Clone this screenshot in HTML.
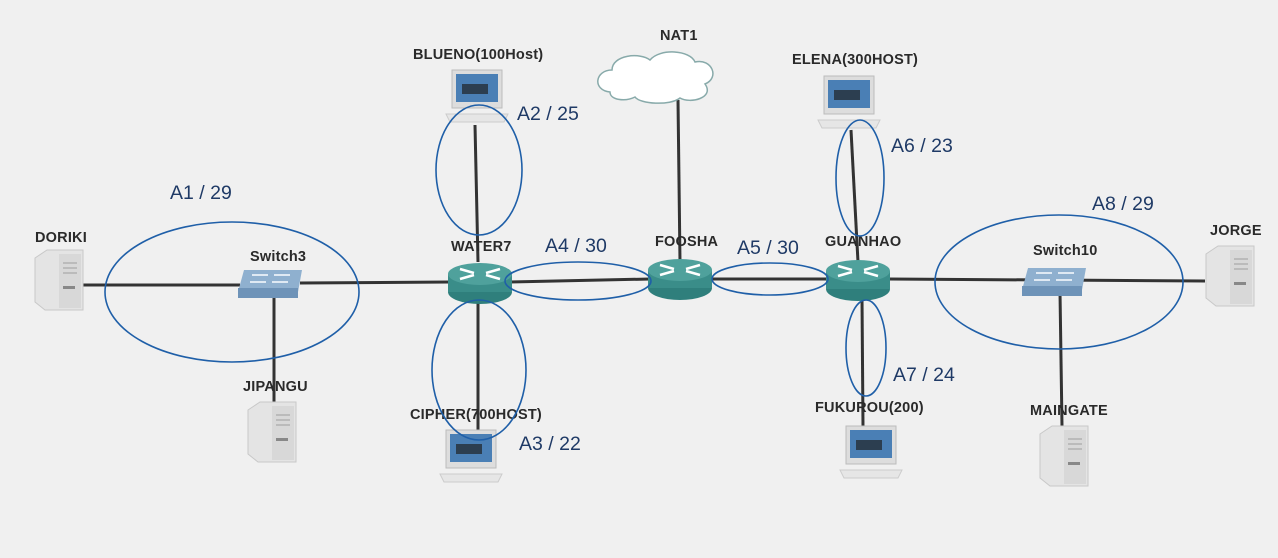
<!DOCTYPE html>
<html><head><meta charset="utf-8"><style>
html,body{margin:0;padding:0;background:#f0f0f0;}
svg{display:block;}
.nl{font-family:"Liberation Sans",sans-serif;font-weight:bold;font-size:14.5px;letter-spacing:0.2px;fill:#2a2a2a;}
.al{font-family:"Liberation Sans",sans-serif;font-size:19.5px;fill:#1f3a66;}
</style></head><body>
<svg width="1278" height="558" viewBox="0 0 1278 558" xmlns="http://www.w3.org/2000/svg">
<defs>
<g id="srv">
  <path d="M0,8 L12,0 L48,0 L48,60 L10,60 L0,52 Z" fill="#e4e4e4" stroke="#c8c8c8"/>
  <rect x="24" y="4" width="22" height="54" fill="#d8d8d8"/>
  <rect x="28" y="12" width="14" height="2" fill="#bbb"/>
  <rect x="28" y="17" width="14" height="2" fill="#bbb"/>
  <rect x="28" y="22" width="14" height="2" fill="#bbb"/>
  <rect x="28" y="36" width="12" height="3" fill="#888"/>
</g>
<g id="lap">
  <rect x="6" y="0" width="50" height="38" fill="#ddd" stroke="#bbb"/>
  <rect x="10" y="4" width="42" height="28" fill="#4a7fb5"/>
  <rect x="16" y="14" width="26" height="10" fill="#2c3e50"/>
  <path d="M0,44 L62,44 L58,52 L4,52 Z" fill="#e6e6e6" stroke="#ccc"/>
</g>
<g id="rtr">
  <ellipse cx="0" cy="10" rx="32" ry="12" fill="#2f7f7c"/>
  <rect x="-32" y="-8" width="64" height="18" fill="#3a8d89"/>
  <ellipse cx="0" cy="-8" rx="32" ry="11" fill="#4fa19c"/>
  <path d="M-20,-13 L-6,-9 M-20,-3 L-6,-7 M20,-13 L6,-9 M20,-3 L6,-7" stroke="#fff" stroke-width="2.5" fill="none"/>
</g>
<g id="sw">
  <path d="M6,0 L64,0 L60,22 L0,22 Z" fill="#8fb0cf"/>
  <rect x="0" y="18" width="60" height="10" fill="#6e93b8"/>
  <path d="M14,5 L30,5 M36,5 L52,5 M12,12 L28,12 M34,12 L50,12" stroke="#dfe9f3" stroke-width="2"/>
</g>
</defs>
<g stroke="#333" stroke-width="3" fill="none">
  <line x1="80" y1="285" x2="240" y2="285"/>
  <line x1="300" y1="283" x2="450" y2="282"/>
  <line x1="510" y1="282" x2="650" y2="279"/>
  <line x1="710" y1="279" x2="830" y2="279"/>
  <line x1="888" y1="279" x2="1205" y2="281"/>
  <line x1="274" y1="295" x2="274" y2="402"/>
  <line x1="475" y1="125" x2="478" y2="262"/>
  <line x1="478" y1="300" x2="478" y2="430"/>
  <line x1="678" y1="100" x2="680" y2="262"/>
  <line x1="851" y1="130" x2="858" y2="262"/>
  <line x1="862" y1="298" x2="863" y2="426"/>
  <line x1="1060" y1="292" x2="1062" y2="426"/>
</g>
<use href="#srv" x="35" y="250"/>
<use href="#srv" x="248" y="402"/>
<use href="#srv" x="1206" y="246"/>
<use href="#srv" x="1040" y="426"/>
<use href="#sw" x="238" y="270"/>
<use href="#sw" x="1022" y="268"/>
<use href="#lap" x="446" y="70"/>
<use href="#lap" x="440" y="430"/>
<use href="#lap" x="818" y="76"/>
<use href="#lap" x="840" y="426"/>
<use href="#rtr" x="480" y="282"/>
<use href="#rtr" x="680" y="278"/>
<use href="#rtr" x="858" y="279"/>
<path d="M610,92 C592,90 595,70 612,70 C612,55 640,52 650,60 C660,48 690,50 695,62 C712,58 720,78 705,84 C715,98 690,104 680,98 C670,106 640,104 635,97 C625,102 610,100 610,92 Z" fill="#fff" stroke="#8aa" stroke-width="1.5"/>
<g class="nl">
<text x="35" y="242">DORIKI</text>
<text x="250" y="261">Switch3</text>
<text x="243" y="391">JIPANGU</text>
<text x="413" y="59">BLUENO(100Host)</text>
<text x="410" y="419">CIPHER(700HOST)</text>
<text x="451" y="251">WATER7</text>
<text x="655" y="246">FOOSHA</text>
<text x="660" y="40">NAT1</text>
<text x="825" y="246">GUANHAO</text>
<text x="792" y="64">ELENA(300HOST)</text>
<text x="815" y="412">FUKUROU(200)</text>
<text x="1033" y="255">Switch10</text>
<text x="1210" y="235">JORGE</text>
<text x="1030" y="415">MAINGATE</text>
</g>
<g fill="none" stroke="#1f5fa8" stroke-width="1.6">
<ellipse cx="232" cy="292" rx="127" ry="70"/>
<ellipse cx="479" cy="170" rx="43" ry="65"/>
<ellipse cx="479" cy="370" rx="47" ry="70"/>
<ellipse cx="578" cy="281" rx="73" ry="19"/>
<ellipse cx="770" cy="279" rx="58" ry="16"/>
<ellipse cx="860" cy="178" rx="24" ry="58"/>
<ellipse cx="866" cy="348" rx="20" ry="48"/>
<ellipse cx="1059" cy="282" rx="124" ry="67"/>
</g>
<g class="al">
<text x="170" y="199">A1 / 29</text>
<text x="517" y="120">A2 / 25</text>
<text x="519" y="450">A3 / 22</text>
<text x="545" y="252">A4 / 30</text>
<text x="737" y="254">A5 / 30</text>
<text x="891" y="152">A6 / 23</text>
<text x="893" y="381">A7 / 24</text>
<text x="1092" y="210">A8 / 29</text>
</g>
</svg>
</body></html>
